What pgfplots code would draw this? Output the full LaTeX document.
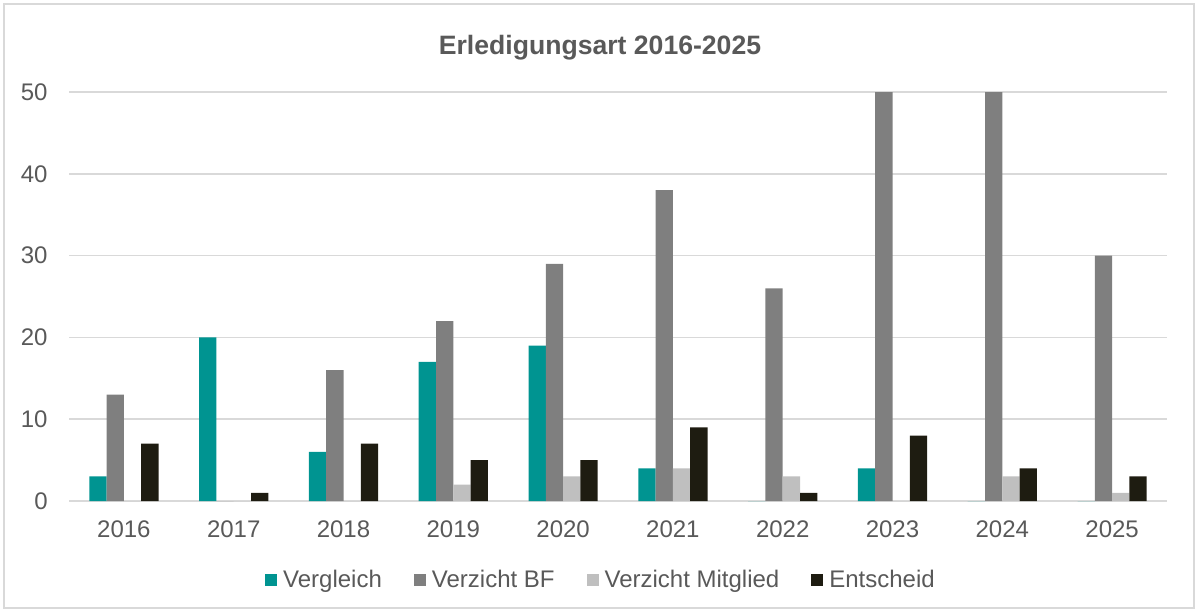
\documentclass[border=0pt]{standalone}
\usepackage{pgfplots}
\pgfplotsset{compat=1.18}
\usepackage{fontspec}
\setmainfont{Liberation Sans}
\definecolor{cteal}{RGB}{0,148,145}
\definecolor{cgray}{RGB}{127,127,127}
\definecolor{clight}{RGB}{191,191,191}
\definecolor{cdark}{RGB}{30,28,17}
\definecolor{ctext}{RGB}{89,89,89}
\definecolor{cgrid}{RGB}{217,217,217}
\begin{document}
\begin{tikzpicture}
\useasboundingbox (0,0) rectangle (599pt,306pt);
\draw[cgrid, line width=0.75pt] (2pt,2pt) rectangle (597pt,304pt);
\node[font=\fontsize{13.3}{16}\selectfont\bfseries, text=ctext] at (300pt,282pt) {Erledigungsart 2016-2025};
\begin{axis}[
  at={(34.5pt,55.5pt)}, anchor=south west,
  scale only axis, width=549pt, height=204.5pt,
  xmin=-0.5, xmax=9.5, ymin=0, ymax=50,
  ybar=0pt, bar width=8.65pt,
  xtick={0,...,9}, xticklabels={2016,2017,2018,2019,2020,2021,2022,2023,2024,2025},
  ytick={0,10,...,50},
  ymajorgrids, grid style={cgrid, line width=0.75pt},
  axis x line*=bottom, axis y line*=left,
  y axis line style={draw=none},
  x axis line style={cgrid, line width=0.75pt, -},
  major tick length=0pt,
  tick label style={font=\fontsize{12}{14}\selectfont, text=ctext},
  /pgf/number format/assume math mode=true,
  yticklabel style={anchor=east, inner sep=0pt, xshift=-10.5pt},
  xticklabel style={anchor=north, inner sep=0pt, yshift=-9.5pt},
  legend columns=4,
  legend style={at={(0.4836,-0.193)}, anchor=center, draw=none, fill=none,
    font=\fontsize{12}{14}\selectfont, text=ctext,
    /tikz/every even column/.append style={column sep=16pt},
    /tikz/every odd column/.append style={column sep=3pt},
    nodes={inner sep=0pt}},
  mylegend/.style={legend image code/.code={\path[##1] (0pt,-3pt) rectangle (6pt,3pt);}},
]
\addplot[fill=cteal, draw=none, mylegend] coordinates {(0,3)(1,20)(2,6)(3,17)(4,19)(5,4)(6,0)(7,4)(8,0)(9,0)};
\addplot[fill=cgray, draw=none, mylegend] coordinates {(0,13)(1,0)(2,16)(3,22)(4,29)(5,38)(6,26)(7,52)(8,52)(9,30)};
\addplot[fill=clight, draw=none, mylegend] coordinates {(0,0)(1,0)(2,0)(3,2)(4,3)(5,4)(6,3)(7,0)(8,3)(9,1)};
\addplot[fill=cdark, draw=none, mylegend] coordinates {(0,7)(1,1)(2,7)(3,5)(4,5)(5,9)(6,1)(7,8)(8,4)(9,3)};
\legend{Vergleich, Verzicht BF, Verzicht Mitglied, Entscheid}
\end{axis}
\end{tikzpicture}
\end{document}
